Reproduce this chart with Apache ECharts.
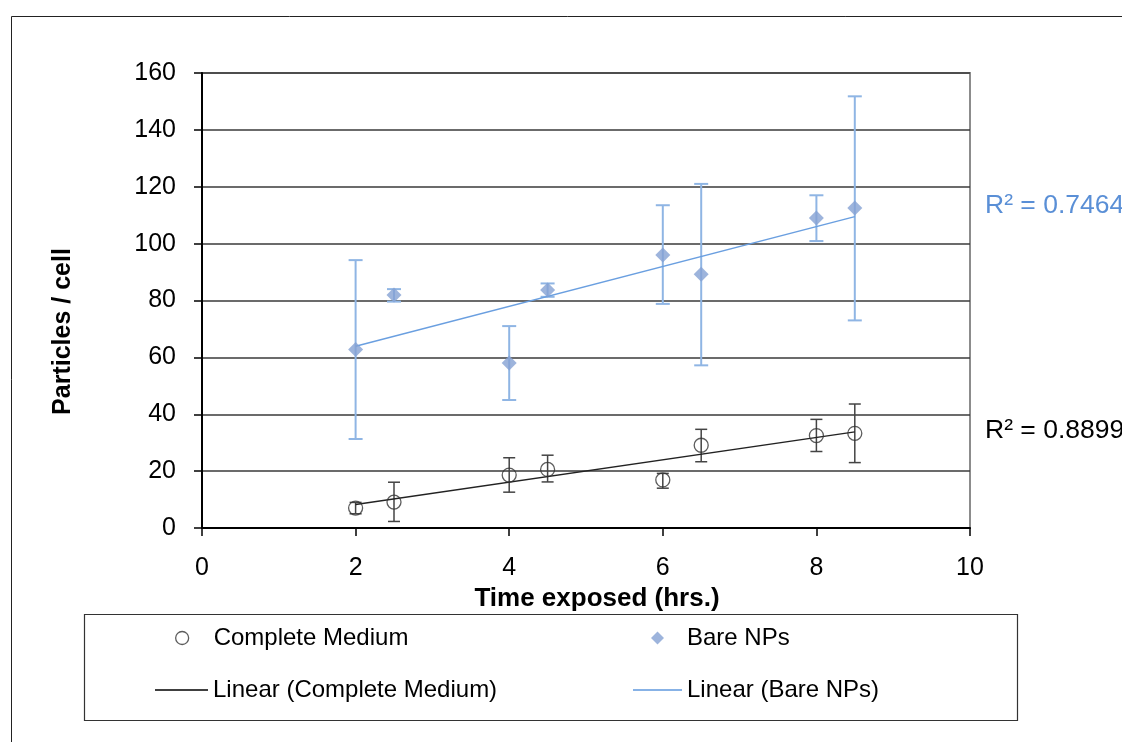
<!DOCTYPE html>
<html>
<head>
<meta charset="utf-8">
<script src="https://cdn.jsdelivr.net/npm/echarts@6/dist/echarts.min.js"></script>
<style>
  html, body { margin: 0; padding: 0; background: #fff; }
  #chart { width: 1122px; height: 742px; }
</style>
</head>
<body>
<div id="chart"></div>
<script>
// hours exposed
const hours = [2, 2.5, 4, 4.5, 6, 6.5, 8, 8.5];

// Complete Medium: mean, error bar low / high
const mediumMean = [7, 9.1, 18.6, 20.6, 16.9, 29.1, 32.5, 33.3];
const mediumLow = [5, 2.3, 12.6, 16.2, 14, 23.3, 26.9, 23];
const mediumHigh = [9, 16.1, 24.7, 25.6, 19.2, 34.7, 38.2, 43.6];

// Bare NPs: mean, error bar low / high
const bareMean = [62.8, 81.9, 58, 83.7, 96, 89.2, 109, 112.5];
const bareLow = [31.3, 79.6, 45, 81.3, 78.8, 57.2, 100.9, 73];
const bareHigh = [94.2, 84, 71, 86, 113.5, 121, 117, 151.8];

// trendline end points
const mediumTrend = [[2, 8.3], [8.5, 33.8]];
const bareTrend = [[2, 63.9], [8.5, 109.5]];

const r2Medium = "R² = 0.8899";
const r2Bare = "R² = 0.7464";

const FONT = "Liberation Sans, Arial, sans-serif";

function pairs(xs, ys) {
  return xs.map((x, i) => [x, ys[i]]);
}
function triples(xs, lo, hi) {
  return xs.map((x, i) => [x, lo[i], hi[i]]);
}

// vertical error bar with caps
function errorBar(color, width, cap) {
  return function (params, api) {
    const x = api.value(0);
    const lo = api.coord([x, api.value(1)]);
    const hi = api.coord([x, api.value(2)]);
    const style = { stroke: color, lineWidth: width };
    return {
      type: "group",
      children: [
        { type: "line", shape: { x1: lo[0], y1: lo[1], x2: hi[0], y2: hi[1] }, style },
        { type: "line", shape: { x1: lo[0] - cap, y1: lo[1], x2: lo[0] + cap, y2: lo[1] }, style },
        { type: "line", shape: { x1: hi[0] - cap, y1: hi[1], x2: hi[0] + cap, y2: hi[1] }, style },
      ],
    };
  };
}

const myChart = echarts.init(document.getElementById("chart"), null, { renderer: "canvas" });

const legendText = { fontFamily: FONT, fontSize: 24, color: "#000" };

const option = {
  backgroundColor: "#fff",
  animation: false,
  grid: {
    left: 202,
    right: 152,
    top: 73,
    bottom: 214,
    show: true,
    borderColor: "#8c8c8c",
    borderWidth: 2,
  },
  // 图例：四个单独放置
  legend: [
    {
      left: 175, top: 626, padding: 0,
      itemWidth: 13, itemHeight: 13,
      data: [{ name: "Complete Medium", icon: "circle",
        itemStyle: { color: "transparent", borderColor: "#333", borderWidth: 1.3 } }],
      textStyle: Object.assign({ padding: [0, 0, 0, 20] }, legendText),
    },
    {
      left: 651, top: 626, padding: 0,
      itemWidth: 13, itemHeight: 13,
      data: [{ name: "Bare NPs", icon: "diamond" }],
      textStyle: Object.assign({ padding: [0, 0, 0, 18] }, legendText),
    },
    {
      left: 155, top: 678, padding: 0,
      itemWidth: 53, itemHeight: 1.5,
      data: [{ name: "Linear (Complete Medium)", icon: "rect" }],
      textStyle: legendText,
    },
    {
      left: 633, top: 678, padding: 0,
      itemWidth: 49, itemHeight: 1.5,
      data: [{ name: "Linear (Bare NPs)", icon: "rect" }],
      textStyle: legendText,
    },
  ],
  xAxis: {
    type: "value",
    min: 0,
    max: 10,
    interval: 2,
    name: "Time exposed (hrs.)",
    nameLocation: "middle",
    nameGap: 45,
    nameTextStyle: {
      fontFamily: FONT, fontSize: 26, fontWeight: "bold", color: "#000",
      padding: [0, 0, 0, 22],
    },
    axisLine: { show: true, lineStyle: { color: "#000", width: 2 } },
    axisTick: { show: true, inside: false, length: 8, lineStyle: { color: "#000", width: 1.5 } },
    axisLabel: { fontFamily: FONT, fontSize: 25, color: "#000", margin: 28 },
    splitLine: { show: false },
  },
  yAxis: {
    type: "value",
    min: 0,
    max: 160,
    interval: 20,
    name: "Particles / cell",
    nameLocation: "middle",
    nameGap: 126,
    nameTextStyle: {
      fontFamily: FONT, fontSize: 25, fontWeight: "bold", color: "#000",
      padding: [0, 62, 0, 0],
    },
    axisLine: { show: true, lineStyle: { color: "#000", width: 2 } },
    axisTick: { show: true, inside: false, length: 8, lineStyle: { color: "#000", width: 1.5 } },
    axisLabel: { fontFamily: FONT, fontSize: 25, color: "#000", margin: 26 },
    splitLine: { show: true, lineStyle: { color: "#3a3a3a", width: 1.5 } },
  },
  series: [
    {
      name: "Complete Medium err",
      type: "custom",
      renderItem: errorBar("#444", 1.5, 6),
      encode: { x: 0, y: [1, 2] },
      data: triples(hours, mediumLow, mediumHigh),
      z: 2,
    },
    {
      name: "Bare NPs err",
      type: "custom",
      renderItem: errorBar("#8fb5e4", 2, 7),
      encode: { x: 0, y: [1, 2] },
      data: triples(hours, bareLow, bareHigh),
      z: 2,
    },
    {
      name: "Linear (Complete Medium)",
      type: "line",
      data: mediumTrend,
      symbol: "none",
      color: "#000",
      lineStyle: { color: "#222", width: 1.5 },
      z: 3,
    },
    {
      name: "Linear (Bare NPs)",
      type: "line",
      data: bareTrend,
      symbol: "none",
      color: "#5f98de",
      lineStyle: { color: "#6a9fe0", width: 1.5 },
      z: 3,
    },
    {
      name: "Complete Medium",
      type: "scatter",
      data: pairs(hours, mediumMean),
      symbol: "circle",
      symbolSize: 14,
      itemStyle: { color: "transparent", borderColor: "#333", borderWidth: 1.3 },
      z: 4,
    },
    {
      name: "Bare NPs",
      type: "scatter",
      data: pairs(hours, bareMean),
      symbol: "diamond",
      symbolSize: 15,
      itemStyle: { color: "#84a1d3" },
      z: 4,
    },
  ],
  graphic: [
    // 外框
    {
      type: "rect", left: 9, top: 14, silent: true,
      shape: { width: 1200, height: 800 },
      style: { fill: "none", stroke: "#222", lineWidth: 1 },
    },
    // 图例框
    {
      type: "rect", left: 82, top: 612, silent: true,
      shape: { width: 933, height: 106 },
      style: { fill: "none", stroke: "#333", lineWidth: 1.2 },
    },
    {
      type: "text", left: 985, top: 192, silent: true,
      style: { text: r2Bare, fontFamily: FONT, fontSize: 26.5, fill: "#5a8fd6" },
    },
    {
      type: "text", left: 985, top: 417, silent: true,
      style: { text: r2Medium, fontFamily: FONT, fontSize: 26.5, fill: "#000" },
    },
  ],
};

option && myChart.setOption(option);
</script>
</body>
</html>
